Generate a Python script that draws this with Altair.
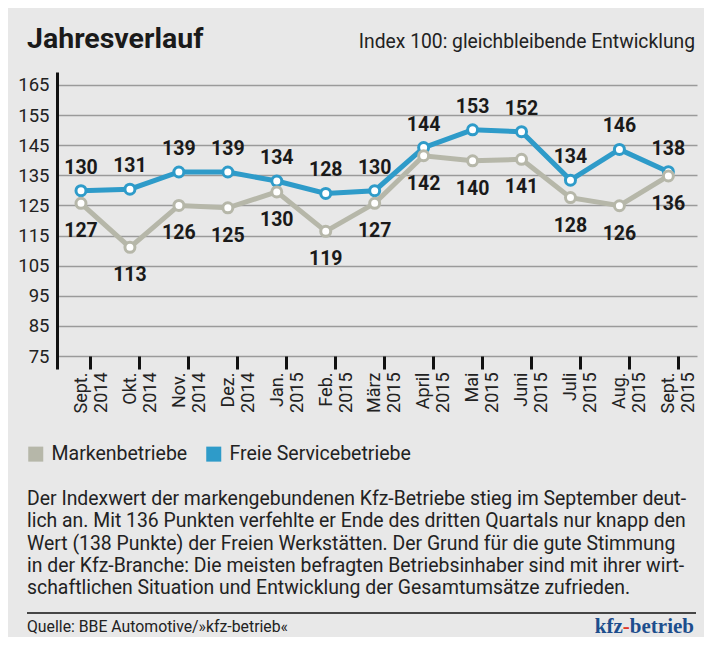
import json
import altair as alt
import pandas as pd

# ---------------- data ----------------
months = ["Sept.", "Okt.", "Nov.", "Dez.", "Jan.", "Feb.", "März", "April",
          "Mai", "Juni", "Juli", "Aug.", "Sept."]
years = ["2014", "2014", "2014", "2014", "2015", "2015", "2015", "2015",
         "2015", "2015", "2015", "2015", "2015"]

# plotted positions and printed labels
freie_plot = [129.9, 130.4, 136.1, 136.1, 133.1, 129.0, 129.9, 144.2, 150.1, 149.5, 133.4, 143.6, 136.2]
freie_label = [130, 131, 139, 139, 134, 128, 130, 144, 153, 152, 134, 146, 138]
marken_plot = [125.7, 111.1, 125.0, 124.2, 129.5, 116.4, 125.7, 141.5, 139.8, 140.3, 127.6, 124.9, 134.8]
marken_label = [127, 113, 126, 125, 130, 119, 127, 142, 140, 141, 128, 126, 136]

series_names = ["Markenbetriebe", "Freie Servicebetriebe"]
series_colors = ["#b6b7a9", "#2e9bc9"]
y_ticks = [75, 85, 95, 105, 115, 125, 135, 145, 155, 165]

title_text = "Jahresverlauf"
subtitle_text = "Index 100: gleichbleibende Entwicklung"
body_lines = [
    "Der Indexwert der markengebundenen Kfz-Betriebe stieg im September deut-",
    "lich an. Mit 136 Punkten verfehlte er Ende des dritten Quartals nur knapp den",
    "Wert (138 Punkte) der Freien Werkstätten. Der Grund für die gute Stimmung",
    "in der Kfz-Branche: Die meisten befragten Betriebsinhaber sind mit ihrer wirt-",
    "schaftlichen Situation und Entwicklung der Gesamtumsätze zufrieden.",
]
source_text = "Quelle: BBE Automotive/»kfz-betrieb«"
logo_parts = ["kfz", "-", "betrieb"]

# ---------------- table ----------------
rows = []
for i in range(len(months)):
    rows.append({"i": i, "series": series_names[1], "value": freie_plot[i], "label": str(freie_label[i])})
    rows.append({"i": i, "series": series_names[0], "value": marken_plot[i], "label": str(marken_label[i])})
df = pd.DataFrame(rows)
one = pd.DataFrame({"k": [0]})

SANS = "Roboto"
TXT = "#222222"

pairs = [[m, y] for m, y in zip(months, years)]
label_expr = json.dumps(pairs, ensure_ascii=False) + "[round(datum.value)]"

x_enc = alt.X(
    "i:Q",
    scale=alt.Scale(domain=[-0.49, 12.585], nice=False, zero=False),
    axis=alt.Axis(
        title=None, values=[i + 0.19 for i in range(len(months))],
        labelExpr=label_expr, labelAngle=270, labelAlign="right", labelBaseline="middle",
        labelFont=SANS, labelFontSize=18, labelColor=TXT, labelLineHeight=20,
        labelOffset=-9, labelPadding=3, labelOverlap=False, labelBound=False, labelFlush=False,
        domain=False, grid=False, ticks=True, tickSize=13, tickWidth=3,
        tickColor="#111111", offset=-13,
    ),
)
y_enc = alt.Y(
    "value:Q",
    scale=alt.Scale(domain=[70.7, 169.3], nice=False, zero=False),
    axis=alt.Axis(
        title=None, values=y_ticks, grid=True, gridColor="#9a9a9a", gridWidth=1.3,
        domain=True, domainColor="#111111", domainWidth=3, ticks=False,
        labelFont=SANS, labelFontSize=18.5, labelColor=TXT, labelPadding=8,
    ),
)
color_scale = alt.Scale(domain=series_names, range=series_colors)

base = alt.Chart(df).encode(x=x_enc, y=y_enc)

legend_layer = base.mark_square(size=0).encode(
    color=alt.Color(
        "series:N", scale=color_scale,
        legend=alt.Legend(
            title=None, orient="none", legendX=-31, legendY=372, direction="horizontal",
            symbolType="square", symbolSize=225, symbolStrokeWidth=0, symbolOpacity=1,
            labelFont=SANS, labelFontSize=19.5, labelColor=TXT, labelOffset=6,
            labelLimit=400, columnPadding=16, padding=0,
        ),
    )
)

def series_layers(name, dy):
    b = base.transform_filter(alt.datum.series == name)
    c = alt.Color("series:N", scale=color_scale, legend=None)
    line = b.mark_line(strokeWidth=5).encode(color=c)
    pts = b.mark_point(filled=False, fill="white", fillOpacity=1, opacity=1,
                       size=100, strokeWidth=3).encode(color=c)
    txt = b.mark_text(dy=dy, font=SANS, fontWeight="bold", fontSize=19.5,
                      color="#1a1a1a", baseline="middle").encode(text="label:N")
    return line, pts, txt

fl, fp, ft = series_layers(series_names[1], -23)
ml, mp, mt = series_layers(series_names[0], 28)

title = alt.Chart(one).mark_text(font=SANS, fontWeight="bold", fontSize=28.5, color="#1a1a1a",
                                 align="left", baseline="alphabetic").encode(
    x=alt.value(-30), y=alt.value(-24), text=alt.value(title_text))
subtitle = alt.Chart(one).mark_text(font=SANS, fontSize=19.3, color=TXT,
                                    align="right", baseline="alphabetic").encode(
    x=alt.value(638), y=alt.value(-24), text=alt.value(subtitle_text))
body = alt.Chart(one).mark_text(font=SANS, fontSize=19.4, color=TXT, align="left",
                                baseline="alphabetic", lineHeight=22.3, text=body_lines).encode(
    x=alt.value(-30), y=alt.value(433))
rule = alt.Chart(one).mark_rule(color="#111111", strokeWidth=1.5).encode(
    x=alt.value(-30), x2=alt.value(639), y=alt.value(541))
source = alt.Chart(one).mark_text(font=SANS, fontSize=15.8, color=TXT, align="left",
                                  baseline="alphabetic").encode(
    x=alt.value(-30), y=alt.value(560), text=alt.value(source_text))
LOGO_FONT = "'Liberation Serif', 'DejaVu Serif', serif"
logo_b = alt.Chart(one).mark_text(font=LOGO_FONT, fontWeight="bold", fontSize=21, color="#1d4e8d",
                                  align="right", baseline="alphabetic").encode(
    x=alt.value(637), y=alt.value(561), text=alt.value(logo_parts[2]))
logo_h = alt.Chart(one).mark_text(font=LOGO_FONT, fontWeight="bold", fontSize=21, color="#e0392b",
                                  align="right", baseline="alphabetic").encode(
    x=alt.value(572.8), y=alt.value(561), text=alt.value(logo_parts[1]))
logo_k = alt.Chart(one).mark_text(font=LOGO_FONT, fontWeight="bold", fontSize=21, color="#1d4e8d",
                                  align="right", baseline="alphabetic").encode(
    x=alt.value(565.8), y=alt.value(561), text=alt.value(logo_parts[0]))

chart = alt.layer(
    legend_layer, fl, ml, fp, mp, ft, mt,
    title, subtitle, body, rule, source, logo_b, logo_h, logo_k,
).properties(
    width=640, height=297,
    autosize=alt.AutoSizeParams(type="none"),
    padding={"left": 49, "top": 64, "right": 7, "bottom": 268},
    background="#e8e8e8",
).configure_view(stroke=None)

chart.save("out.html", embed_options={"renderer": "svg", "actions": False})
